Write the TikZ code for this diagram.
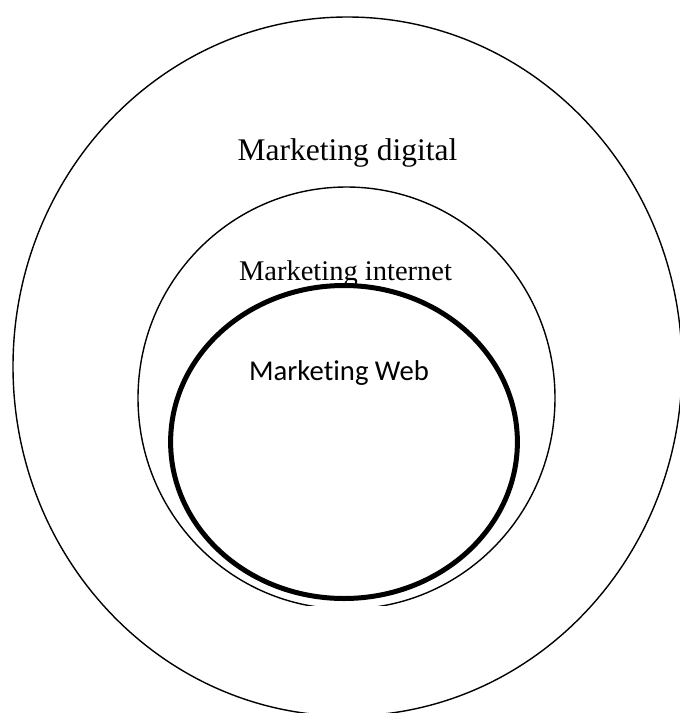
\documentclass[tikz,border=0pt]{standalone}
\usepackage{fontspec}
\setmainfont{Liberation Serif}
\newfontfamily\webfont[Ligatures=NoCommon]{Carlito}
\begin{document}
\begin{tikzpicture}[x=1pt,y=-1pt,
        ring/.style={draw=black, line width=1.4pt},
        ringbold/.style={draw=black, fill=white, line width=5pt},
        label/.style={anchor=base, inner sep=0pt}]
        % Canvas (page size)
        \useasboundingbox (0,0) rectangle (680,713);
        \clip (0,0) rectangle (680,713);

        % Outer ring: digital
        \draw[ring] (347.5,366.5) ellipse [x radius=334.5, y radius=349.5];

        % Middle ring: internet (cut at the bottom)
        \begin{scope}
            \clip (0,0) rectangle (680,605.5);
            \draw[ring] (346.5,398) ellipse [x radius=208.5, y radius=211];
        \end{scope}

        % Labels
        \node[label, font=\fontsize{31.5}{36}\selectfont] (digital) at (347.5,160) {Marketing digital};
        \node[label, font=\fontsize{28.5}{34}\selectfont] (internet) at (345.5,280) {Marketing internet};

        % Inner ring: web (thick)
        \draw[ringbold] (344,442) ellipse [x radius=173.4, y radius=156.5];
        \node[label, font=\webfont\fontsize{28.7}{34}\selectfont] (web) at (339,380) {Marketing Web};
    \end{tikzpicture}
\end{document}
